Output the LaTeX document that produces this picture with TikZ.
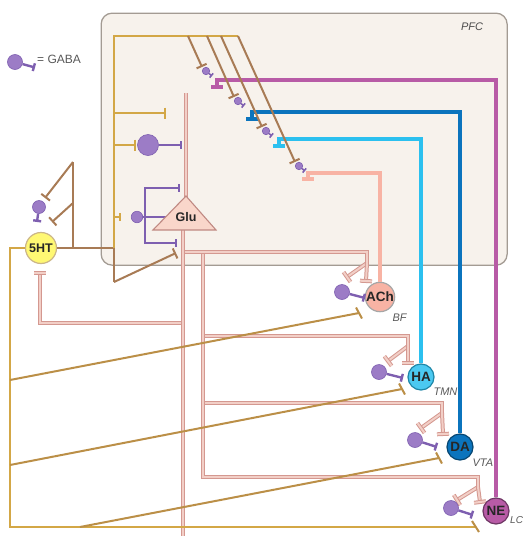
\documentclass[tikz,border=0pt]{standalone}
\usepackage{fontspec}
\setmainfont{Liberation Sans}
\usetikzlibrary{arrows.meta,calc}
\definecolor{goldc}{HTML}{D3A746}
\definecolor{gdiagc}{HTML}{BB8F47}
\definecolor{brownc}{HTML}{A87B55}
\definecolor{pinkout}{HTML}{D49890}
\definecolor{pinkin}{HTML}{F2CFC7}
\definecolor{purpline}{HTML}{7E5FB0}
\definecolor{purpfill}{HTML}{9C7CC6}
\definecolor{magc}{HTML}{B85BA6}
\definecolor{bluec}{HTML}{0B74BD}
\definecolor{cyanc}{HTML}{2BC0EF}
\definecolor{achc}{HTML}{F8B3A4}
\definecolor{pfcfill}{HTML}{F7F2EC}
\definecolor{pfcline}{HTML}{A39B93}
\definecolor{glufill}{HTML}{F9D6CA}
\newcommand{\dbar}[2]{\draw[pinkax] ($(#2)!6pt!90:(#1)$) -- ($(#2)!6pt!-90:(#1)$);}
\begin{document}
\begin{tikzpicture}[x=1pt,y=-1pt,
  goldl/.style={draw=goldc,line width=2.4pt},
  gdiag/.style={draw=gdiagc,line width=2pt},
  brownl/.style={draw=brownc,line width=2pt},
  pinkax/.style={draw=pinkout,double=pinkin,double distance=2pt,line width=1pt},
  purp/.style={draw=purpline,line width=2.4pt},
  tb/.style={-{Bar[width=11pt]}},
  tbs/.style={-{Bar[width=8pt]}},
  tbx/.style={-{Bar[width=5.5pt]}},
  gaba/.style={circle,fill=purpfill,draw=purpline,line width=0.6pt,inner sep=0pt},
  nm/.style={circle,inner sep=0pt,minimum size=26pt,font=\bfseries\fontsize{13.5}{14}\selectfont,text=black!85,line width=1.2pt},
  reg/.style={font=\itshape\fontsize{11}{12}\selectfont,text=black!65},
]
\useasboundingbox (0,0) rectangle (526,536);
% PFC box
\node[draw=pfcline,fill=pfcfill,line width=1.3pt,rounded corners=11pt,minimum width=406pt,minimum height=252pt,anchor=north west,inner sep=0pt] (pfc) at (100.5,12.5) {};
\node[reg,text=black!70] (pfclab) at (472,27) {PFC};
% legend
\node[gaba,minimum size=15pt] (lg) at (15,62) {};
\coordinate (lgt) at (35,67.5);
\draw[purp,tbs] (lg) -- (lgt);
\node[anchor=west,font=\fontsize{12}{13}\selectfont,text=black!65,inner sep=0pt] (lgl) at (37,59) {= GABA};

% ---------------- pink (Glu) axon tree ----------------
\coordinate (ha0) at (408,336); \coordinate (has) at (408,346); \coordinate (hal) at (388,361); \coordinate (har) at (408,363);
\coordinate (da0) at (442,403); \coordinate (das) at (442,413); \coordinate (dal) at (421,428); \coordinate (dar) at (443,434);
\coordinate (ne0) at (478,477); \coordinate (nes) at (478,487); \coordinate (nel) at (457,500); \coordinate (ner) at (480,502);
\coordinate (ac0) at (367,252); \coordinate (acs) at (367,263); \coordinate (acl) at (347,277); \coordinate (acr) at (366,281);
\draw[pinkax] (has) -- (hal); \draw[pinkax] (has) -- (har); \dbar{has}{hal} \dbar{has}{har}
\draw[pinkax] (das) -- (dal); \draw[pinkax] (das) -- (dar); \dbar{das}{dal} \dbar{das}{dar}
\draw[pinkax] (nes) -- (nel); \draw[pinkax] (nes) -- (ner); \dbar{nes}{nel} \dbar{nes}{ner}
\draw[pinkax] (acs) -- (acl); \draw[pinkax] (acs) -- (acr); \dbar{acs}{acl} \dbar{acs}{acr}
\draw[pinkax] (203,336) -- (ha0) -- (has);
\draw[pinkax] (203,403) -- (da0) -- (das);
\draw[pinkax] (203,252) -- (203,477) -- (ne0) -- (nes);
\draw[pinkax] (183,252) -- (ac0) -- (acs);
\coordinate (sht) at (40,273);
\draw[pinkax] (183,323) -- (40,323) -- (sht);
\draw[pinkax] (34,273) -- (46,273);
\draw[pinkax] (183,229) -- (183,536);
\draw[pinkax] (186,93) -- (186,198);

% ---------------- gold from 5HT ----------------
\node[nm,fill=yellow!55,draw=goldc!80!black!60,minimum size=31pt,font=\bfseries\fontsize{12.5}{13}\selectfont] (SHT) at (41,248) {5HT};
\draw[goldl] (SHT.west) -- (10,248) -- (10,527) -- (475,527);
\draw[gdiag] (472,521) -- (479,532);
\coordinate (gA) at (10,380); \coordinate (gAt) at (359,313);
\coordinate (gB) at (10,465); \coordinate (gBt) at (402,389);
\coordinate (gC) at (80,527); \coordinate (gCt) at (439,458);
\draw[gdiag] (gA) -- (gAt); \draw[gdiag] ($(gAt)+(-3,-5.5)$) -- ($(gAt)+(3,5.5)$);
\draw[gdiag] (gB) -- (gBt); \draw[gdiag] ($(gBt)+(-3,-5.5)$) -- ($(gBt)+(3,5.5)$);
\draw[gdiag] (gC) -- (gCt); \draw[gdiag] ($(gCt)+(-3,-5.5)$) -- ($(gCt)+(3,5.5)$);

% brown from 5HT
\draw[brownl] (SHT.east) -- (114,248) -- (114,282);
\coordinate (brT) at (176,253);
\draw[brownl,tb] (114,282) -- (brT);
\draw[brownl] (73,248) -- (73,162);
\coordinate (b5a) at (45,198); \coordinate (b5b) at (52,222);
\draw[brownl,tb] (73,162) -- (b5a);
\draw[brownl,tb] (73,203) -- (b5b);
\node[gaba,minimum size=13pt] (g5) at (39,207) {};
\coordinate (g5t) at (37,222);
\draw[purp,tbs] (g5) -- (g5t);

% gold inside PFC
\draw[goldl] (114,248) -- (114,36) -- (238,36);
\coordinate (gt1) at (166,113);
\draw[goldl,tb] (114,113) -- (gt1);
\coordinate (gt2) at (136,145);
\draw[goldl,tb] (114,145) -- (gt2);
\coordinate (gt3) at (121,217);
\draw[goldl,tbs] (114,217) -- (gt3);

% purple interneurons near Glu
\node[gaba,minimum size=21pt] (bigG) at (148,145) {};
\coordinate (bigGt) at (182,145);
\draw[purp,tbs] (bigG) -- (bigGt);
\draw[purp] (137,217) -- (168,217);
\coordinate (pu1) at (180,188); \coordinate (pu2) at (177,243);
\draw[purp,tbs] (145,217) -- (145,188) -- (pu1);
\draw[purp,tbs] (145,217) -- (145,243) -- (pu2);
\node[gaba,minimum size=11.5pt] (smG) at (137,217) {};

% Glu triangle
\draw[fill=glufill,draw=pinkout!90!black,line width=1.1pt] (186,196) -- (216,230) -- (153,230) -- cycle;
\node[font=\bfseries\fontsize{12.5}{13}\selectfont,text=black!85] (glu) at (186,217) {Glu};

% ---------------- neuromodulator nodes ----------------
\node[nm,fill=achc,draw=black!35] (ACh) at (380,297) {ACh};
\node[nm,fill=cyanc!85,draw=cyanc!70!black] (HA) at (421,377) {HA};
\node[nm,fill=bluec,draw=bluec!60!black] (DA) at (460,447) {DA};
\node[nm,fill=magc,draw=magc!60!black] (NE) at (496,511) {NE};
\node[reg,anchor=west] (bf) at (389,318) {BF};
\node[reg,anchor=west] (tmn) at (430,392) {TMN};
\node[reg,anchor=west] (vta) at (469,463) {VTA};
\node[reg,anchor=west,inner sep=0pt,font=\itshape\fontsize{10}{12}\selectfont] (lc) at (510,520) {LC};

% colored axons to PFC
\draw[draw=magc,line width=3.2pt] (217,86) -- (217,80) -- (496,80) -- (NE);
\draw[draw=magc,line width=3.5pt] (211,87) -- (223,87);
\draw[draw=bluec,line width=4.2pt] (252,118) -- (252,112) -- (460,112) -- (DA);
\draw[draw=bluec,line width=3.5pt] (246,119) -- (258,119);
\draw[draw=cyanc,line width=3.4pt] (279,145) -- (279,139) -- (421,139) -- (HA);
\draw[draw=cyanc,line width=3.5pt] (273,146) -- (285,146);
\draw[draw=achc,line width=3.4pt] (308,178) -- (308,173) -- (380,173) -- (ACh);
\draw[draw=achc,line width=3.5pt] (302,179) -- (314,179);

% brown diagonals in PFC with small GABA
\coordinate (bt1) at (202,67); \coordinate (bt2) at (234,97); \coordinate (bt3) at (262,127); \coordinate (bt4) at (295,162);
\draw[brownl,tb] (188,36) -- (bt1);
\draw[brownl,tb] (207,36) -- (bt2);
\draw[brownl,tb] (221,36) -- (bt3);
\draw[brownl,tb] (238,36) -- (bt4);
\node[gaba,minimum size=7.5pt] (s1) at (206,71) {}; \coordinate (s1t) at (212,76);
\node[gaba,minimum size=7.5pt] (s2) at (238,101) {}; \coordinate (s2t) at (244,106);
\node[gaba,minimum size=7.5pt] (s3) at (266,131) {}; \coordinate (s3t) at (272,136);
\node[gaba,minimum size=7.5pt] (s4) at (299,166) {}; \coordinate (s4t) at (305,171);
\draw[purp,line width=1.6pt,tbx] (s1) -- (s1t);
\draw[purp,line width=1.6pt,tbx] (s2) -- (s2t);
\draw[purp,line width=1.6pt,tbx] (s3) -- (s3t);
\draw[purp,line width=1.6pt,tbx] (s4) -- (s4t);

% purple GABA near neuromodulator nuclei
\node[gaba,minimum size=15pt] (ga) at (342,292) {}; \coordinate (gat) at (365,298);
\node[gaba,minimum size=15pt] (gh) at (379,372) {}; \coordinate (ght) at (403,378);
\node[gaba,minimum size=15pt] (gd) at (415,440) {}; \coordinate (gdt) at (437,447);
\node[gaba,minimum size=15pt] (gn) at (451,508) {}; \coordinate (gnt) at (473,515);
\draw[purp,tbs] (ga) -- (gat);
\draw[purp,tbs] (gh) -- (ght);
\draw[purp,tbs] (gd) -- (gdt);
\draw[purp,tbs] (gn) -- (gnt);
\end{tikzpicture}
\end{document}
